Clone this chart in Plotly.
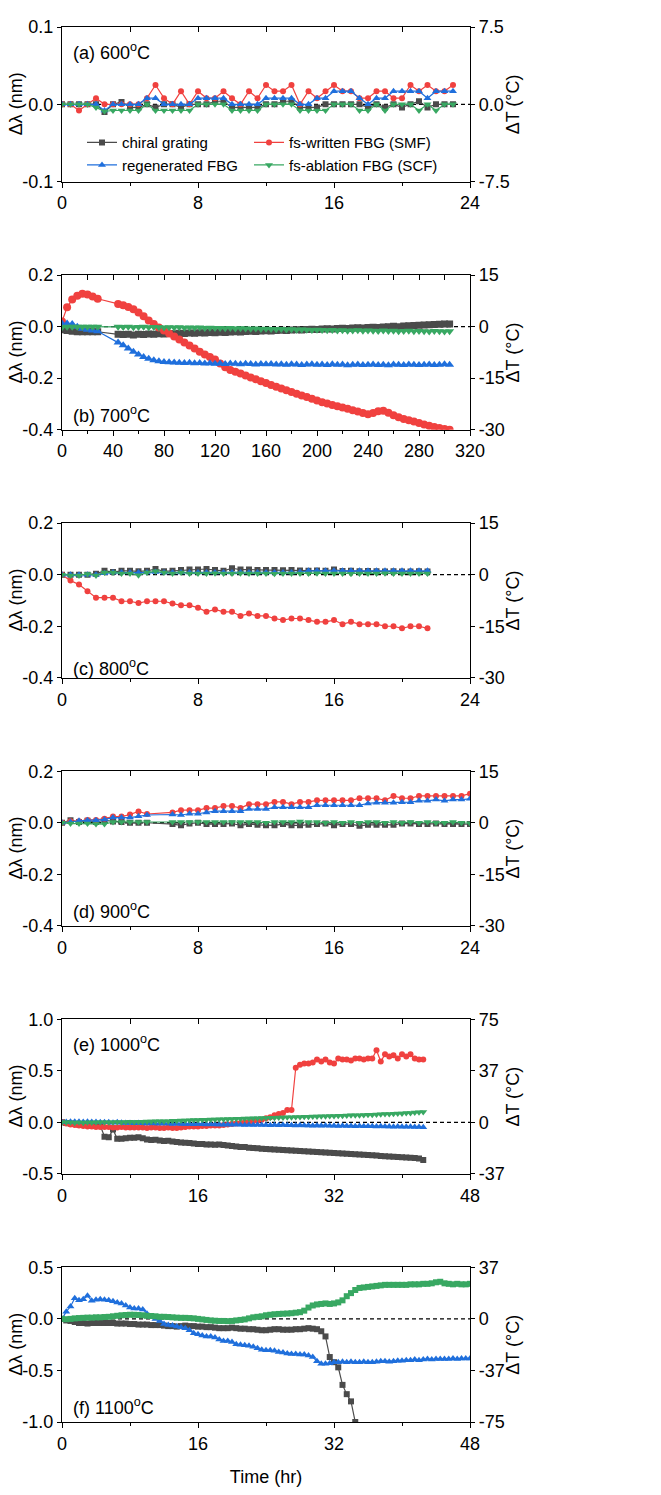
import plotly.graph_objects as go

# ---------------- data (nm) ----------------
# (a) 600 C
t_a = [0, 0.5, 1, 1.5, 2, 2.5, 3, 3.5, 4, 4.5, 5, 5.5, 6, 6.5, 7, 7.5, 8, 8.5, 9, 9.5,
       10, 10.5, 11, 11.5, 12, 12.5, 13, 13.5, 14, 14.5, 15, 15.5, 16, 16.5, 17, 17.5,
       18, 18.5, 19, 19.5, 20, 20.5, 21, 21.5, 22, 22.5, 23]
gray_a = [0, 0, 0, 0, 0, -0.01, 0, 0.003, -0.004, -0.004,
          0, -0.004, 0, 0, -0.004, 0, 0, 0, 0.004, 0.004,
          -0.004, -0.004, -0.004, -0.004, 0, 0, 0.004, 0.004, -0.004, -0.004,
          -0.004, 0, 0, 0, 0, 0, -0.004, 0, -0.004, 0,
          -0.004, 0, 0.004, -0.004, 0, 0, 0]
red_a = [0, 0, -0.008, 0, 0.008, 0, 0, 0, 0, 0,
         0.008, 0.025, 0.008, 0, 0.017, 0, 0.017, 0.008, 0.008, 0.017,
         0.008, 0, 0.017, 0.008, 0.025, 0.017, 0.017, 0.025, 0, 0.017,
         0.008, 0.017, 0.025, 0.017, 0.017, 0.008, 0.008, 0.017, 0.017, 0.008,
         0.008, 0.025, 0.017, 0.025, 0.017, 0.017, 0.025]
blue_a = [0, 0, 0, 0, 0, -0.008, 0, 0, 0, 0,
          0.008, 0.008, 0, 0, 0, 0, 0.008, 0.008, 0.008, 0.008,
          0, 0, 0, 0, 0.008, 0.008, 0.008, 0.008, 0, 0,
          0.008, 0.008, 0.017, 0.017, 0.017, 0.008, 0, 0.008, 0.008, 0.017,
          0.017, 0.017, 0.017, 0.008, 0.017, 0.017, 0.017]
green_a = [0, 0, 0, 0, -0.004, -0.009, -0.008, -0.008, -0.008, -0.008,
           0, -0.008, -0.008, -0.008, -0.008, -0.008, 0, 0, 0, 0,
           -0.008, -0.008, -0.008, -0.008, 0, 0, 0, 0, -0.008, -0.008,
           -0.008, -0.008, 0, 0, 0, -0.008, -0.008, 0, -0.008, 0,
           0, 0, -0.008, 0, -0.008, 0, 0]

# (b) 700 C
t_b = [0, 4, 8, 12, 16, 20, 24, 28,
       44, 48, 52, 56, 60, 64, 68, 72, 76, 80, 84, 88, 92, 96, 100, 104, 108, 112, 116, 120,
       124, 128, 132, 136, 140, 144, 148, 152, 156, 160, 164, 168, 172, 176, 180, 184, 188,
       192, 196, 200, 204, 208, 212, 216, 220, 224, 228, 232, 236, 240, 244, 248, 252, 256,
       260, 264, 268, 272, 276, 280, 284, 288, 292, 296, 300, 304]
red_b = [0.02, 0.075, 0.105, 0.12, 0.128, 0.125, 0.117, 0.108,
         0.088, 0.083, 0.076, 0.067, 0.055, 0.04, 0.024, 0.01, -0.003, -0.015,
         -0.027, -0.038, -0.05, -0.062, -0.073, -0.085, -0.097, -0.108, -0.118, -0.128,
         -0.143, -0.158, -0.168, -0.175, -0.182, -0.19, -0.197, -0.204, -0.212, -0.219,
         -0.226, -0.233, -0.24, -0.247, -0.254, -0.26, -0.267, -0.273, -0.28, -0.287,
         -0.293, -0.298, -0.304, -0.309, -0.314, -0.319, -0.324, -0.329, -0.335, -0.34,
         -0.335, -0.328, -0.326, -0.334, -0.344, -0.352, -0.358, -0.363, -0.368, -0.374,
         -0.38, -0.385, -0.389, -0.393, -0.397, -0.4]
blue_b = [0.012, 0.012, 0.01, 0.0, -0.008, -0.012, -0.015, -0.018,
          -0.062, -0.072, -0.085, -0.097, -0.108, -0.118, -0.125, -0.13, -0.134, -0.137,
          -0.138, -0.139, -0.14, -0.141, -0.14, -0.142, -0.141, -0.143, -0.142, -0.144,
          -0.143, -0.145, -0.143, -0.144, -0.146, -0.144, -0.145, -0.147, -0.145, -0.146,
          -0.145, -0.147, -0.146, -0.148, -0.146, -0.147, -0.149, -0.147, -0.146, -0.148,
          -0.147, -0.149, -0.146, -0.148, -0.147, -0.15, -0.148, -0.147, -0.149, -0.148,
          -0.147, -0.149, -0.148, -0.15, -0.147, -0.148, -0.149, -0.147, -0.148, -0.149,
          -0.148, -0.147, -0.149, -0.148, -0.146, -0.148]
gray_b = [-0.012, -0.015, -0.018, -0.02, -0.02, -0.02, -0.02, -0.02,
          -0.03, -0.031, -0.03, -0.032, -0.03, -0.031, -0.029, -0.03, -0.028, -0.029,
          -0.027, -0.028, -0.026, -0.027, -0.025, -0.026, -0.024, -0.025, -0.023, -0.024,
          -0.022, -0.023, -0.021, -0.02, -0.021, -0.019, -0.018, -0.019, -0.017, -0.016,
          -0.017, -0.015, -0.014, -0.015, -0.013, -0.012, -0.013, -0.011, -0.01, -0.011,
          -0.009, -0.008, -0.009, -0.007, -0.006, -0.007, -0.005, -0.004, -0.005, -0.003,
          -0.002, -0.003, -0.001, 0.0, 0.001, 0.0, 0.002, 0.003, 0.004, 0.005,
          0.006, 0.007, 0.008, 0.009, 0.01, 0.01]
green_b = [-0.002, 0.0, 0.0, 0.0, 0.0, 0.0, 0.0, 0.0,
           0.0, -0.001, 0.0, -0.002, -0.001, 0.0, -0.002, -0.001, -0.002, -0.003,
           -0.002, -0.003, -0.002, -0.004, -0.003, -0.004, -0.003, -0.005, -0.004, -0.005,
           -0.005, -0.006, -0.005, -0.007, -0.006, -0.007, -0.008, -0.007, -0.009, -0.008,
           -0.009, -0.01, -0.009, -0.011, -0.01, -0.012, -0.011, -0.012, -0.013, -0.012,
           -0.013, -0.014, -0.013, -0.015, -0.014, -0.016, -0.015, -0.014, -0.016, -0.015,
           -0.016, -0.017, -0.015, -0.017, -0.016, -0.018, -0.017, -0.016, -0.018, -0.017,
           -0.018, -0.019, -0.017, -0.018, -0.019, -0.018]

# (c) 800 C
t_c = [0, 0.5, 1, 1.5, 2, 2.5, 3, 3.5, 4, 4.5, 5, 5.5, 6, 6.5, 7, 7.5, 8, 8.5, 9, 9.5,
       10, 10.5, 11, 11.5, 12, 12.5, 13, 13.5, 14, 14.5, 15, 15.5, 16, 16.5, 17, 17.5,
       18, 18.5, 19, 19.5, 20, 20.5, 21, 21.5]
gray_c = [0, 0, 0, 0, 0.004, 0.015, 0.01, 0.015, 0.015, 0.013,
          0.015, 0.022, 0.013, 0.015, 0.018, 0.02, 0.02, 0.022, 0.018, 0.015,
          0.025, 0.02, 0.02, 0.018, 0.018, 0.018, 0.017, 0.018, 0.016, 0.015,
          0.016, 0.015, 0.02, 0.014, 0.015, 0.013, 0.014, 0.013, 0.012, 0.013,
          0.012, 0.012, 0.013, 0.012]
red_c = [0, -0.023, -0.038, -0.064, -0.089, -0.089, -0.089, -0.103, -0.103, -0.11,
         -0.103, -0.103, -0.103, -0.112, -0.119, -0.119, -0.128, -0.144, -0.135, -0.144,
         -0.144, -0.16, -0.151, -0.16, -0.16, -0.17, -0.176, -0.17, -0.17, -0.176,
         -0.183, -0.183, -0.176, -0.192, -0.183, -0.192, -0.192, -0.192, -0.2, -0.2,
         -0.208, -0.2, -0.2, -0.208]
blue_c = [0, 0, 0, 0, 0, 0.006, 0.008, 0.008, 0.008, 0.008,
          0.008, 0.01, 0.008, 0.008, 0.008, 0.008, 0.008, 0.008, 0.008, 0.008,
          0.008, 0.008, 0.008, 0.008, 0.008, 0.008, 0.008, 0.008, 0.01, 0.015,
          0.015, 0.015, 0.015, 0.015, 0.015, 0.015, 0.015, 0.015, 0.015, 0.015,
          0.015, 0.015, 0.015, 0.015]
green_c = [0, -0.003, -0.003, 0.003, -0.003, 0.008, 0.008, 0.005, 0.005, -0.002,
           0.008, 0.013, 0.008, 0.005, 0.008, 0.005, 0.005, 0.005, 0.006, 0.005,
           0.005, 0.006, 0.005, 0.005, 0.005, 0.004, 0.005, 0.005, 0.005, 0.005,
           0.006, 0.005, 0.005, 0.005, 0.004, 0.005, 0.005, 0.005, 0.006, 0.005,
           0.005, 0.005, 0.005, 0.005]

# (d) 900 C
t_d = [0, 0.5, 1, 1.5, 2, 2.5, 3, 3.5, 4, 4.5, 5,
       6.5, 7, 7.5, 8, 8.5, 9, 9.5, 10, 10.5, 11, 11.5, 12, 12.5, 13, 13.5, 14, 14.5, 15,
       15.5, 16, 16.5, 17, 17.5, 18, 18.5, 19, 19.5, 20, 20.5, 21, 21.5, 22, 22.5, 23, 23.5, 24]
gray_d = [0, 0.01, 0.003, 0.008, 0.003, 0.01, 0.005, 0.003, 0, 0, 0,
          -0.005, -0.01, -0.003, 0, -0.005, -0.005, -0.005, -0.003, -0.01, -0.005,
          -0.008, -0.01, -0.01, -0.005, -0.01, -0.01, -0.008, -0.005, -0.003, -0.01,
          -0.005, -0.005, -0.012, -0.008, -0.008, -0.008, -0.008, -0.003, -0.003, -0.005,
          -0.005, -0.003, -0.005, -0.005, -0.005, -0.005]
red_d = [0, 0.006, 0.006, 0.011, 0.011, 0.016, 0.024, 0.024, 0.032, 0.044, 0.034,
         0.04, 0.049, 0.049, 0.049, 0.057, 0.057, 0.065, 0.065, 0.057, 0.072,
         0.072, 0.072, 0.081, 0.081, 0.072, 0.081, 0.081, 0.087, 0.087, 0.087,
         0.087, 0.087, 0.095, 0.095, 0.095, 0.087, 0.104, 0.095, 0.095, 0.104,
         0.104, 0.104, 0.104, 0.104, 0.104, 0.113]
blue_d = [0, 0.003, 0.008, 0.01, 0.01, 0.013, 0.02, 0.02, 0.02, 0.025, 0.03,
          0.032, 0.03, 0.035, 0.035, 0.04, 0.045, 0.045, 0.045, 0.045, 0.053,
          0.053, 0.053, 0.06, 0.06, 0.06, 0.06, 0.06, 0.068, 0.068, 0.068,
          0.068, 0.068, 0.068, 0.075, 0.078, 0.078, 0.078, 0.08, 0.08, 0.085,
          0.085, 0.09, 0.085, 0.09, 0.09, 0.093]
green_d = [0, -0.003, -0.003, -0.003, -0.005, -0.005, 0.003, 0.003, 0.003, 0.003, 0.003,
           0.003, 0.003, 0.003, 0.003, 0.003, 0.003, 0.003, 0.003, 0.003, 0.003,
           0.003, 0, 0.003, 0.003, 0.003, 0.005, 0.003, 0.003, 0, 0.003,
           0, 0.003, 0, 0.003, 0.003, 0, 0.003, 0, 0.003, 0,
           0.003, 0, 0, 0.003, 0, -0.002]

# (e) 1000 C
t_e = [0, 0.5, 1, 1.5, 2, 2.5, 3, 3.5, 4, 4.5, 5, 5.5, 6, 6.5, 7, 7.5, 8, 8.5, 9, 9.5,
       10, 10.5, 11, 11.5, 12, 12.5, 13, 13.5, 14, 14.5, 15, 15.5, 16, 16.5, 17, 17.5,
       18, 18.5, 19, 19.5, 20, 20.5, 21, 21.5, 22, 22.5, 23, 23.5, 24, 24.5, 25, 25.5,
       26, 26.5, 27, 27.5, 28, 28.5, 29, 29.5, 30, 30.5, 31, 31.5, 32, 32.5, 33, 33.5,
       34, 34.5, 35, 35.5, 36, 36.5, 37, 37.5, 38, 38.5, 39, 39.5, 40, 40.5, 41, 41.5,
       42, 42.5]
gray_e = [0, -0.005, -0.01, -0.015, -0.02, -0.022, -0.025, -0.03, -0.03, -0.03,
          -0.14, -0.145, -0.07, -0.16, -0.16, -0.155, -0.15, -0.148, -0.145, -0.155,
          -0.165, -0.17, -0.168, -0.175, -0.18, -0.178, -0.185, -0.19, -0.195, -0.198,
          -0.2, -0.205, -0.21, -0.21, -0.215, -0.215, -0.218, -0.215, -0.22, -0.225,
          -0.23, -0.235, -0.238, -0.24, -0.245, -0.248, -0.25, -0.255, -0.258, -0.26,
          -0.262, -0.265, -0.268, -0.27, -0.272, -0.275, -0.278, -0.28, -0.283, -0.285,
          -0.288, -0.29, -0.292, -0.295, -0.298, -0.3, -0.302, -0.305, -0.307, -0.31,
          -0.312, -0.315, -0.317, -0.32, -0.322, -0.325, -0.328, -0.33, -0.333, -0.335,
          -0.338, -0.34, -0.343, -0.346, -0.35, -0.365]
red_e = [0, -0.01, -0.02, -0.025, -0.03, -0.035, -0.04, -0.04, -0.045, -0.045,
         -0.045, -0.045, -0.05, -0.05, -0.045, -0.05, -0.05, -0.05, -0.05, -0.05,
         -0.055, -0.05, -0.05, -0.055, -0.055, -0.05, -0.055, -0.055, -0.05, -0.045,
         -0.04, -0.04, -0.04, -0.035, -0.035, -0.03, -0.03, -0.03, -0.025, -0.02,
         -0.015, -0.01, -0.005, 0.0, 0.0, 0.01, 0.015, 0.025, 0.04, 0.05,
         0.07, 0.08, 0.09, 0.12, 0.12, 0.53, 0.56, 0.57, 0.57, 0.58,
         0.61, 0.59, 0.61, 0.58, 0.57, 0.62, 0.61, 0.61, 0.6, 0.62,
         0.62, 0.61, 0.62, 0.62, 0.7, 0.59, 0.66, 0.64, 0.65, 0.62,
         0.66, 0.64, 0.66, 0.62, 0.61, 0.61]
blue_e = [0, 0.003, 0.005, 0.005, 0.005, 0.003, 0.005, 0.003, 0.003, 0.0,
          0.0, 0.0, -0.003, 0.0, -0.003, -0.005, -0.005, -0.008, -0.005, -0.008,
          -0.01, -0.008, -0.01, -0.012, -0.01, -0.012, -0.015, -0.012, -0.015, -0.015,
          -0.015, -0.018, -0.015, -0.018, -0.02, -0.018, -0.02, -0.02, -0.022, -0.02,
          -0.022, -0.02, -0.022, -0.025, -0.022, -0.025, -0.022, -0.025, -0.025, -0.027,
          -0.025, -0.027, -0.025, -0.028, -0.027, -0.03, -0.028, -0.03, -0.03, -0.032,
          -0.03, -0.032, -0.03, -0.033, -0.032, -0.035, -0.033, -0.035, -0.035, -0.037,
          -0.035, -0.037, -0.038, -0.037, -0.04, -0.038, -0.04, -0.04, -0.042, -0.04,
          -0.042, -0.043, -0.042, -0.045, -0.045, -0.048]
green_e = [0, 0, 0, -0.003, 0, -0.003, 0, -0.002, 0, 0,
           0, 0.002, 0, 0.003, 0, 0.003, 0.005, 0.003, 0.005, 0.005,
           0.008, 0.008, 0.01, 0.01, 0.012, 0.012, 0.015, 0.015, 0.018, 0.018,
           0.02, 0.022, 0.022, 0.025, 0.025, 0.028, 0.028, 0.03, 0.03, 0.032,
           0.033, 0.035, 0.035, 0.037, 0.038, 0.04, 0.04, 0.042, 0.043, 0.045,
           0.045, 0.047, 0.048, 0.05, 0.05, 0.052, 0.053, 0.055, 0.055, 0.057,
           0.058, 0.06, 0.06, 0.062, 0.063, 0.065, 0.065, 0.067, 0.068, 0.07,
           0.07, 0.072, 0.073, 0.075, 0.077, 0.078, 0.08, 0.082, 0.083, 0.085,
           0.087, 0.09, 0.092, 0.095, 0.097, 0.1]

# (f) 1100 C
t_f = [0, 0.5, 1, 1.5, 2, 2.5, 3, 3.5, 4, 4.5, 5, 5.5, 6, 6.5, 7, 7.5, 8, 8.5, 9, 9.5,
       10, 10.5, 11, 11.5, 12, 12.5, 13, 13.5, 14, 14.5, 15, 15.5, 16, 16.5, 17, 17.5,
       18, 18.5, 19, 19.5, 20, 20.5, 21, 21.5, 22, 22.5, 23, 23.5, 24, 24.5, 25, 25.5,
       26, 26.5, 27, 27.5, 28, 28.5, 29, 29.5, 30, 30.5, 31, 31.5, 32, 32.5, 33, 33.5,
       34, 34.5, 35, 35.5, 36, 36.5, 37, 37.5, 38, 38.5, 39, 39.5, 40, 40.5, 41, 41.5,
       42, 42.5, 43, 43.5, 44, 44.5, 45, 45.5, 46, 46.5, 47, 47.5, 48]
t_f_gray = [0, 0.5, 1, 1.5, 2, 2.5, 3, 3.5, 4, 4.5, 5, 5.5, 6, 6.5, 7, 7.5, 8, 8.5, 9, 9.5,
            10, 10.5, 11, 11.5, 12, 12.5, 13, 13.5, 14, 14.5, 15, 15.5, 16, 16.5, 17, 17.5,
            18, 18.5, 19, 19.5, 20, 20.5, 21, 21.5, 22, 22.5, 23, 23.5, 24, 24.5, 25, 25.5,
            26, 26.5, 27, 27.5, 28, 28.5, 29, 29.5, 30, 30.5, 31, 31.5, 32, 32.5, 33, 33.5,
            34, 34.5]
gray_f = [0, -0.015, -0.02, -0.03, -0.04, -0.04, -0.045, -0.04, -0.04, -0.04,
          -0.04, -0.04, -0.04, -0.045, -0.045, -0.045, -0.05, -0.05, -0.055, -0.055,
          -0.055, -0.06, -0.06, -0.06, -0.065, -0.07, -0.07, -0.075, -0.07, -0.065,
          -0.07, -0.07, -0.075, -0.075, -0.08, -0.08, -0.085, -0.09, -0.09, -0.09,
          -0.085, -0.09, -0.095, -0.095, -0.1, -0.1, -0.105, -0.11, -0.11, -0.105,
          -0.1, -0.1, -0.105, -0.105, -0.105, -0.1, -0.1, -0.095, -0.09, -0.095,
          -0.1, -0.12, -0.17, -0.37, -0.42, -0.47, -0.64, -0.73, -0.8, -1.0]
blue_f = [0, 0.07, 0.12, 0.2, 0.18, 0.19, 0.225, 0.175, 0.185, 0.19,
          0.185, 0.18, 0.17, 0.16, 0.15, 0.13, 0.11, 0.1, 0.1, 0.09,
          0.05, 0.02, 0.0, -0.02, -0.05, -0.06, -0.065, -0.075, -0.08, -0.09,
          -0.11, -0.14, -0.15, -0.16, -0.17, -0.17, -0.18, -0.2, -0.215, -0.215,
          -0.225, -0.245, -0.25, -0.255, -0.26, -0.27, -0.285, -0.3, -0.305, -0.305,
          -0.31, -0.32, -0.325, -0.335, -0.34, -0.34, -0.345, -0.345, -0.355, -0.37,
          -0.41, -0.435, -0.435, -0.43, -0.42, -0.42, -0.415, -0.42, -0.415, -0.42,
          -0.42, -0.415, -0.42, -0.42, -0.415, -0.41, -0.41, -0.415, -0.41, -0.405,
          -0.405, -0.4, -0.4, -0.395, -0.4, -0.395, -0.39, -0.395, -0.39, -0.39,
          -0.39, -0.39, -0.385, -0.39, -0.385, -0.385, -0.385]
green_f = [0, -0.003, 0.0, 0.005, 0.008, 0.01, 0.012, 0.012, 0.015, 0.015,
           0.018, 0.02, 0.025, 0.03, 0.035, 0.038, 0.04, 0.04, 0.038, 0.035,
           0.03, 0.028, 0.025, 0.02, 0.02, 0.018, 0.015, 0.012, 0.01, 0.01,
           0.008, 0.005, 0.0, -0.005, -0.01, -0.015, -0.018, -0.02, -0.02, -0.022,
           -0.02, -0.015, -0.01, -0.005, 0.005, 0.015, 0.02, 0.025, 0.035, 0.04,
           0.045, 0.048, 0.05, 0.052, 0.055, 0.06, 0.065, 0.08, 0.11, 0.13,
           0.14, 0.145, 0.15, 0.145, 0.15, 0.16, 0.18, 0.22, 0.25, 0.28,
           0.3, 0.305, 0.31, 0.315, 0.32, 0.325, 0.33, 0.33, 0.33, 0.33,
           0.33, 0.33, 0.335, 0.335, 0.335, 0.34, 0.34, 0.345, 0.355, 0.36,
           0.345, 0.34, 0.335, 0.34, 0.335, 0.335, 0.34]

# tick labels
yt_a, ytx_a = [-0.1, 0.0, 0.1], ['-0.1', '0.0', '0.1']
yt_bcd, ytx_bcd = [-0.4, -0.2, 0.0, 0.2], ['-0.4', '-0.2', '0.0', '0.2']
yt_e, ytx_e = [-0.5, 0.0, 0.5, 1.0], ['-0.5', '0.0', '0.5', '1.0']
yt_f, ytx_f = [-1.0, -0.5, 0.0, 0.5], ['-1.0', '-0.5', '0.0', '0.5']
dt_a, dtx_a = [-7.5, 0, 7.5], ['-7.5', '0.0', '7.5']
dt_bcd, dtx_bcd = [-30, -15, 0, 15], ['-30', '-15', '0', '15']
dt_e, dtx_e = [-37.5, 0, 37.5, 75], ['-37', '0', '37', '75']
dt_f, dtx_f = [-75, -37.5, 0, 37.5], ['-75', '-37', '0', '37']

names = ['chiral grating', 'fs-written FBG (SMF)', 'regenerated FBG', 'fs-ablation FBG (SCF)']
colors = ['#4b4b4b', '#f0413f', '#1f6fdc', '#38a862']
symbols = ['square', 'circle', 'triangle-up', 'triangle-down']
legend_of = ['legend', 'legend2', 'legend', 'legend2']

panels = [
    dict(ser=[(t_a, gray_a), (t_a, red_a), (t_a, blue_a), (t_a, green_a)],
         xr=[0, 24], xd=8, yr=[-0.1, 0.1], yt=(yt_a, ytx_a), y2r=[-7.5, 7.5], y2t=(dt_a, dtx_a),
         label='(a) 600<sup>o</sup>C', ly=0.84),
    dict(ser=[(t_b, gray_b), (t_b, red_b), (t_b, blue_b), (t_b, green_b)],
         xr=[0, 320], xd=40, yr=[-0.4, 0.2], yt=(yt_bcd, ytx_bcd), y2r=[-30, 15], y2t=(dt_bcd, dtx_bcd),
         label='(b) 700<sup>o</sup>C', ly=0.10),
    dict(ser=[(t_c, gray_c), (t_c, red_c), (t_c, blue_c), (t_c, green_c)],
         xr=[0, 24], xd=8, yr=[-0.4, 0.2], yt=(yt_bcd, ytx_bcd), y2r=[-30, 15], y2t=(dt_bcd, dtx_bcd),
         label='(c) 800<sup>o</sup>C', ly=0.065),
    dict(ser=[(t_d, gray_d), (t_d, red_d), (t_d, blue_d), (t_d, green_d)],
         xr=[0, 24], xd=8, yr=[-0.4, 0.2], yt=(yt_bcd, ytx_bcd), y2r=[-30, 15], y2t=(dt_bcd, dtx_bcd),
         label='(d) 900<sup>o</sup>C', ly=0.10),
    dict(ser=[(t_e, gray_e), (t_e, red_e), (t_e, blue_e), (t_e, green_e)],
         xr=[0, 48], xd=16, yr=[-0.5, 1.0], yt=(yt_e, ytx_e), y2r=[-37.5, 75], y2t=(dt_e, dtx_e),
         label='(e) 1000<sup>o</sup>C', ly=0.845),
    dict(ser=[(t_f_gray, gray_f), None, (t_f, blue_f), (t_f, green_f)],
         xr=[0, 48], xd=16, yr=[-1.0, 0.5], yt=(yt_f, ytx_f), y2r=[-75, 37.5], y2t=(dt_f, dtx_f),
         label='(f) 1100<sup>o</sup>C', ly=0.10),
]

FONT = 'Liberation Sans, Arial, sans-serif'
W, H = 661, 1495
MT, MB, ML, MR = 27, 61, 62, 191
PW = W - ML - MR
PH, STEP = 156, 250.2
AREA = H - MT - MB
DL = '\u0394\u03bb (nm)'
DT = '\u0394T (\u00b0C)'

fig = go.Figure()
layout = dict(width=W, height=H, margin=dict(l=ML, r=MR, t=MT, b=MB),
              paper_bgcolor='white', plot_bgcolor='white',
              font=dict(family=FONT, size=18, color='black'), shapes=[], annotations=[])

axl = dict(showline=True, linecolor='black', linewidth=1.3, showgrid=False, zeroline=False,
           tickcolor='black', tickwidth=1.3, tickfont=dict(size=18))


def xn(i):
    return 'x' if i == 1 else f'x{i}'


def yn(i):
    return 'y' if i == 1 else f'y{i}'


for p, pn in enumerate(panels):
    xa, xb, ya, yb = 2 * p + 1, 2 * p + 2, 2 * p + 1, 2 * p + 2
    top = MT + STEP * p
    dom = [(H - MB - (top + PH)) / AREA, (H - MB - top) / AREA]

    for k, s in enumerate(pn['ser']):
        if s is None:
            continue
        sym = symbols[k]
        msize = 6 if k < 2 else 7
        if p == 5 and k == 3:
            sym, msize = 'square', 6
        if p == 1:
            msize = 7 if k == 0 else 8
        fig.add_trace(go.Scatter(
            x=s[0], y=s[1], mode='lines+markers', name=names[k],
            line=dict(color=colors[k], width=1.2),
            marker=dict(symbol=sym, size=msize, color=colors[k], line=dict(width=0)),
            showlegend=(p == 0), legend=legend_of[k], xaxis=xn(xa), yaxis=yn(ya)))
    # empty helpers so the top and right axes get drawn
    fig.add_trace(go.Scatter(x=[], y=[], xaxis=xn(xb), yaxis=yn(ya), showlegend=False, hoverinfo='skip'))
    fig.add_trace(go.Scatter(x=[], y=[], xaxis=xn(xa), yaxis=yn(yb), showlegend=False, hoverinfo='skip'))

    layout['xaxis' if xa == 1 else f'xaxis{xa}'] = dict(
        axl, domain=[0, 1], anchor=yn(ya), range=pn['xr'], tick0=0, dtick=pn['xd'],
        ticks='outside', ticklen=5, mirror=True,
        minor=dict(ticks='outside', dtick=pn['xd'] / 2, ticklen=3, tickcolor='black', tickwidth=1.3),
        title=dict(text='Time (hr)', font=dict(size=18), standoff=17) if p == 5 else None)
    # top axis: ticks only, pointing into the frame
    layout[f'xaxis{xb}'] = dict(
        showgrid=False, zeroline=False, showline=False, overlaying=xn(xa), anchor=yn(ya), side='top',
        range=pn['xr'], tick0=0, dtick=pn['xd'] / 2, ticks='inside', ticklen=5,
        tickcolor='black', tickwidth=1.3, showticklabels=False)
    layout['yaxis' if ya == 1 else f'yaxis{ya}'] = dict(
        axl, domain=dom, anchor=xn(xa), range=pn['yr'], tickvals=pn['yt'][0], ticktext=pn['yt'][1],
        ticks='outside', ticklen=4)
    # right axis in temperature units
    layout[f'yaxis{yb}'] = dict(
        axl, overlaying=yn(ya), anchor=xn(xa), side='right', range=pn['y2r'],
        tickvals=pn['y2t'][0], ticktext=pn['y2t'][1], ticks='outside', ticklen=4)

    layout['shapes'].append(dict(type='line', xref=f'{xn(xa)} domain', yref=yn(ya),
                                 x0=0, x1=1, y0=0, y1=0, layer='below',
                                 line=dict(color='black', width=1.3, dash='4px,3px')))
    ydom = f'{yn(ya)} domain'
    layout['annotations'] += [
        dict(text=pn['label'], xref=f'{xn(xa)} domain', yref=ydom, x=0.022, y=pn['ly'],
             xanchor='left', yanchor='middle', showarrow=False, font=dict(size=18)),
        dict(text=DL, xref='paper', yref=ydom, x=(16 - ML) / PW, y=0.5, textangle=-90,
             xanchor='center', yanchor='middle', showarrow=False, font=dict(size=18)),
        dict(text=DT, xref='paper', yref=ydom, x=(513 - ML) / PW, y=0.5, textangle=-90,
             xanchor='center', yanchor='middle', showarrow=False, font=dict(size=18)),
    ]

leg = dict(orientation='v', xanchor='left', yanchor='top', xref='paper', yref='paper',
           font=dict(size=15), bgcolor='rgba(0,0,0,0)', tracegroupgap=0, itemsizing='trace',
           y=(H - MB - 127) / AREA)
layout['legend'] = dict(leg, x=(82 - ML) / PW)
layout['legend2'] = dict(leg, x=(249 - ML) / PW)
fig.update_layout(**layout)
fig.write_html('out.html', config={'displayModeBar': False},
               post_script="document.body.style.margin='0px';")
